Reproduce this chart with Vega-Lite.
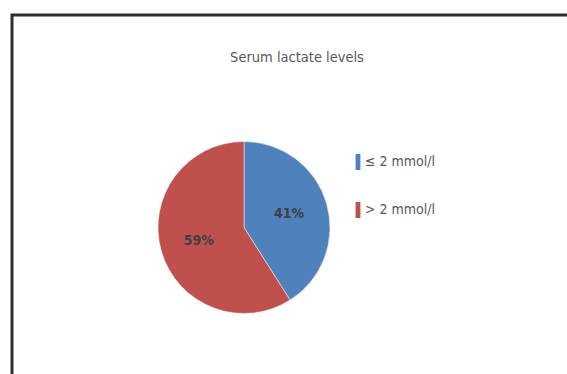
{
  "$schema": "https://vega.github.io/schema/vega-lite/v6.json",
  "width": 570,
  "height": 365,
  "autosize": "none",
  "padding": {"left": 12, "top": 15, "right": 0, "bottom": 0},
  "background": "white",
  "view": {"stroke": "#2e2e2e", "strokeWidth": 3, "fill": "white"},
  "config": {
    "view": {"stroke": "#2e2e2e", "strokeWidth": 3},
    "font": "DejaVu Sans Condensed, Liberation Sans Narrow, Liberation Sans, sans-serif"
  },
  "title": {
    "text": "Serum lactate levels",
    "font": "DejaVu Sans Condensed, Liberation Sans Narrow, Liberation Sans, sans-serif",
    "fontSize": 14.5,
    "fontWeight": "normal",
    "color": "#595959",
    "anchor": "middle",
    "frame": "group",
    "orient": "top",
    "baseline": "alphabetic",
    "offset": 0,
    "dy": 61
  },
  "data": {
    "values": [
      {"category": "≤ 2 mmol/l", "share": 0.41},
      {"category": "> 2 mmol/l", "share": 0.59}
    ]
  },
  "encoding": {
    "theta": {"field": "share", "type": "quantitative", "stack": true},
    "order": {"field": "category", "sort": "descending"},
    "color": {
      "field": "category",
      "type": "nominal",
      "sort": ["≤ 2 mmol/l", "> 2 mmol/l"],
      "scale": {"range": ["#4F81BD", "#C0504D"]},
      "legend": {
        "title": null,
        "orient": "none",
        "legendX": 338,
        "legendY": 139,
        "symbolType": "M-0.3,-1H0.3V1H-0.3Z",
        "symbolSize": 256,
        "symbolStrokeWidth": 0,
        "labelFont": "DejaVu Sans Condensed, Liberation Sans Narrow, Liberation Sans, sans-serif",
        "labelFontSize": 14,
        "labelColor": "#595959",
        "labelOffset": -1,
        "rowPadding": 32
      }
    }
  },
  "layer": [
    {
      "mark": {"type": "arc", "outerRadius": 86, "xOffset": -53, "yOffset": 30, "stroke": "white", "strokeWidth": 0.5}
    },
    {
      "mark": {"type": "text", "radius": 47, "xOffset": -53, "yOffset": 30, "font": "DejaVu Sans Condensed, Liberation Sans Narrow, Liberation Sans, sans-serif", "fontSize": 14, "fontWeight": "bold", "fill": "#404040"},
      "encoding": {
        "text": {"field": "share", "type": "quantitative", "format": ".0%"},
        "color": {"value": "#404040"}
      }
    }
  ]
}
